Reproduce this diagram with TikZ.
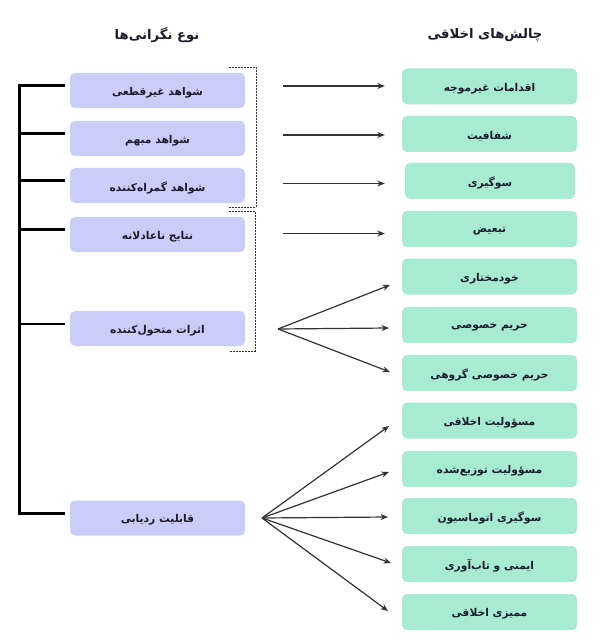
\documentclass[tikz,border=0pt]{standalone}
\usepackage{fontspec}
\usetikzlibrary{arrows.meta}
\TeXXeTstate=1
\newfontfamily\fa[Script=Arabic]{DejaVu Sans}
\newcommand\fat[1]{\fa\beginR #1\endR}
\newcommand\fbx[1]{\raisebox{-2pt}[\height][\depth]{\fa\beginR #1\endR}}
\definecolor{lav}{HTML}{C9CDF7}
\definecolor{mint}{HTML}{A8EBD3}
\definecolor{txt}{HTML}{1C1C2A}
\definecolor{arrc}{HTML}{333333}
\tikzset{
  lbox/.style={fill=lav, rounded corners=5pt, minimum width=175pt, minimum height=35pt, inner sep=0pt, text=txt, font=\fontsize{10.7}{12}\selectfont\bfseries},
  rbox/.style={fill=mint, rounded corners=5pt, minimum width=175pt, minimum height=36pt, inner sep=0pt, text=txt, font=\fontsize{10.7}{12}\selectfont\bfseries},
  hdr/.style={text=txt, font=\fontsize{13.2}{15}\selectfont\bfseries},
  arr/.style={draw=arrc, line width=1.2pt, -{Stealth[length=7.5pt,width=6pt]}},
  brk/.style={draw=black, line width=3pt},
  dbr/.style={draw=arrc, line width=0.9pt, dash pattern=on 2pt off 1pt},
}
\begin{document}
\begin{tikzpicture}[x=1pt,y=-1pt]
\useasboundingbox (0,0) rectangle (600,639);
\fill[white] (0,0) rectangle (600,639);
% headers
\node[hdr] (h1) at (157,35) {\fat{نوع نگرانی‌ها}};
\node[hdr] (h2) at (485,35) {\fat{چالش‌های اخلاقی}};
% left boxes
\node[lbox] (l1) at (157.5,90.5) {\fbx{شواهد غیرقطعی}};
\node[lbox] (l2) at (157.5,138.5) {\fbx{شواهد مبهم}};
\node[lbox] (l3) at (157.5,185.5) {\fbx{شواهد گمراه‌کننده}};
\node[lbox] (l4) at (157.5,234.5) {\fbx{نتایج ناعادلانه}};
\node[lbox] (l5) at (157.5,328.5) {\fbx{اثرات متحول‌کننده}};
\node[lbox] (l6) at (157.5,518) {\fbx{قابلیت ردیابی}};
% right boxes
\node[rbox] (r1) at (489.5,86.5) {\fbx{اقدامات غیرموجه}};
\node[rbox] (r2) at (489.5,134) {\fbx{شفافیت}};
\node[rbox, minimum width=170pt] (r3) at (490,181) {\fbx{سوگیری}};
\node[rbox] (r4) at (489.5,229) {\fbx{تبعیض}};
\node[rbox] (r5) at (489.5,276.5) {\fbx{خودمختاری}};
\node[rbox] (r6) at (489.5,325) {\fbx{حریم خصوصی}};
\node[rbox] (r7) at (489.5,373) {\fbx{حریم خصوصی گروهی}};
\node[rbox] (r8) at (489.5,420.5) {\fbx{مسؤولیت اخلاقی}};
\node[rbox] (r9) at (489.5,469) {\fbx{مسؤولیت توزیع‌شده}};
\node[rbox] (r10) at (489.5,516) {\fbx{سوگیری اتوماسیون}};
\node[rbox] (r11) at (489.5,564) {\fbx{ایمنی و تاب‌آوری}};
\node[rbox] (r12) at (489.5,612) {\fbx{ممیزی اخلاقی}};
% left bracket
\draw[brk] ([xshift=-5pt,yshift=5pt]l1.west) -- ++(-45,0) -- ([xshift=-50pt,yshift=5pt]l6.west) -- ++(45,0);
\foreach \i in {2,3,4}{\draw[brk] ([xshift=-5pt,yshift=5pt]l\i.west) -- ++(-45,0);}
\draw[brk, line width=2pt] ([xshift=-5pt,yshift=5pt]l5.west) -- ++(-45,0);
% dashed brackets
\draw[dbr] (229,67) -- (256,67) -- (256,207) -- (229,207);
\draw[dbr] (229,211) -- (255,211) -- (255,351) -- (229,351);
% straight arrows
\coordinate (s1) at (283,86);
\coordinate (s2) at (283,135);
\coordinate (s3) at (283,183.5);
\coordinate (s4) at (283,233.5);
\draw[arr] (s1) -- ([xshift=-17pt]r1.west |- s1);
\draw[arr] (s2) -- ([xshift=-17pt]r2.west |- s2);
\draw[arr] (s3) -- ([xshift=-20pt]r3.west |- s3);
\draw[arr] (s4) -- ([xshift=-17pt]r4.west |- s4);
% fan 1
\coordinate (f1) at (278,329);
\coordinate (e5) at (390,285);
\coordinate (e6) at (389,328);
\coordinate (e7) at (390,372);
\draw[arr] (f1) -- (e5);
\draw[arr] (f1) -- (e6);
\draw[arr] (f1) -- (e7);
% fan 2
\coordinate (f2) at (262,518);
\coordinate (e8) at (389,426);
\coordinate (e9) at (389,472);
\coordinate (e10) at (388,517);
\coordinate (e11) at (391,563);
\coordinate (e12) at (388,611);
\foreach \j in {8,...,12}{\draw[arr] (f2) -- (e\j);}
\end{tikzpicture}
\end{document}
